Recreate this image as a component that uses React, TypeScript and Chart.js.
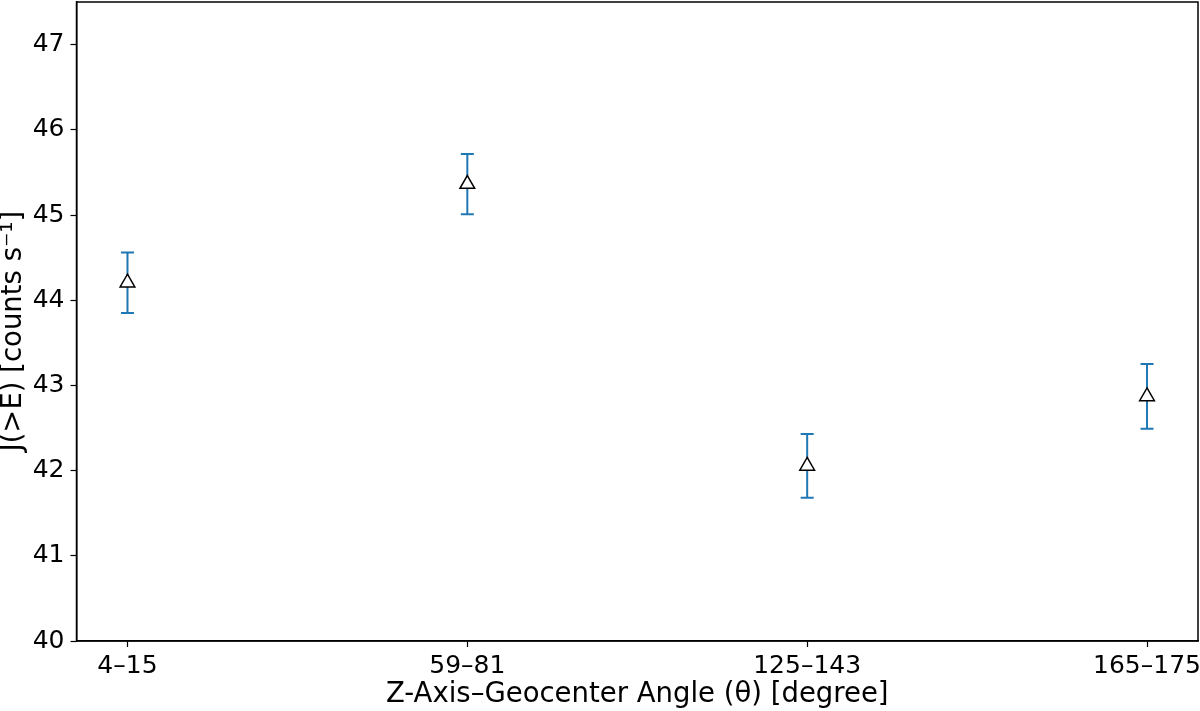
import React, { useRef, useEffect } from 'react';
import { Chart, registerables } from 'chart.js';

Chart.register(...registerables);

const CATEGORIES = ['4–15', '59–81', '125–143', '165–175'];
const FLUX = [44.205, 45.363, 42.055, 42.87];
const FLUX_ERR = [0.355, 0.353, 0.375, 0.38];
const Y_TICKS = [40, 41, 42, 43, 44, 45, 46, 47];

const FONT = "'DejaVu Sans', sans-serif";
const ERR_COLOR = '#1f77b4';

// error bars go under the markers, frame goes on top of everything
const errorBars = {
  id: 'errorBars',
  beforeDatasetsDraw(chart: Chart) {
    const { ctx, scales } = chart;
    const xs = scales.x;
    const ys = scales.y;
    ctx.save();
    ctx.strokeStyle = ERR_COLOR;
    ctx.lineWidth = 2;
    FLUX.forEach((v, i) => {
      const x = xs.getPixelForValue(i);
      const top = ys.getPixelForValue(v + FLUX_ERR[i]);
      const bot = ys.getPixelForValue(v - FLUX_ERR[i]);
      ctx.beginPath();
      ctx.moveTo(x, top);
      ctx.lineTo(x, bot);
      ctx.moveTo(x - 6.5, top);
      ctx.lineTo(x + 6.5, top);
      ctx.moveTo(x - 6.5, bot);
      ctx.lineTo(x + 6.5, bot);
      ctx.stroke();
    });
    ctx.restore();
  },
  afterDraw(chart: Chart) {
    const { ctx, chartArea: a } = chart;
    ctx.save();
    ctx.strokeStyle = '#000';
    ctx.lineWidth = 1.5;
    ctx.strokeRect(a.left, a.top, a.right - a.left, a.bottom - a.top);
    ctx.restore();
  },
};

const App: React.FC = () => {
  const canvasRef = useRef<HTMLCanvasElement>(null);

  useEffect(() => {
    document.body.style.margin = '0';
    if (!canvasRef.current) return;
    const chart = new Chart(canvasRef.current, {
      type: 'scatter',
      data: {
        datasets: [{
          data: FLUX.map((y, i) => ({ x: i, y })),
          pointStyle: 'triangle',
          pointRadius: 8.5,
          pointBackgroundColor: '#fff',
          pointBorderColor: '#000',
          pointBorderWidth: 1.5,
          showLine: false,
        }],
      },
      options: {
        responsive: false,
        animation: false,
        layout: { autoPadding: false, padding: { top: 2, right: 2, left: 0, bottom: 0 } },
        plugins: { legend: { display: false }, tooltip: { enabled: false } },
        scales: {
          x: {
            type: 'linear',
            min: -0.15,
            max: 3.15,
            afterFit: (s: any) => { s.height = 70; s.paddingLeft = 0; s.paddingRight = 0; },
            ticks: {
              stepSize: 1,
              includeBounds: false,
              color: '#000',
              padding: 4,
              maxRotation: 0,
              font: { family: FONT, size: 25 },
              callback: (v: any) => CATEGORIES[v as number] ?? '',
            },
            grid: { drawOnChartArea: false, tickLength: 6, color: '#000', tickWidth: 1.2 },
            border: { color: '#000', width: 1.5 },
            title: {
              display: true,
              text: 'Z-Axis–Geocenter Angle (θ) [degree]',
              color: '#000',
              font: { family: FONT, size: 27.5, lineHeight: 1.15 },
              padding: { top: 0, bottom: 0 },
            },
          },
          y: {
            min: 40,
            max: 47.5,
            afterFit: (s: any) => { s.width = 76.5; s.paddingTop = 0; s.paddingBottom = 0; },
            afterBuildTicks: (s: any) => { s.ticks = Y_TICKS.map((value) => ({ value })); },
            ticks: {
              color: '#000',
              padding: 6,
              font: { family: FONT, size: 25 },
              callback: (v: any) => String(v),
            },
            grid: { drawOnChartArea: false, tickLength: 6, color: '#000', tickWidth: 1.2 },
            border: { color: '#000', width: 1.5 },
            title: {
              display: true,
              text: 'J(>E) [counts s⁻¹]\u2002\u2009',
              color: '#000',
              font: { family: FONT, size: 27.5, lineHeight: 1.0 },
              padding: { top: 0, bottom: 0 },
            },
          },
        },
      },
      plugins: [errorBars],
    });
    return () => { chart.destroy(); };
  }, []);

  return (
    <div style={{ width: 1200, height: 711 }}>
      <canvas ref={canvasRef} width={1200} height={711} style={{ width: 1200, height: 711 }} />
    </div>
  );
};

export default App;
